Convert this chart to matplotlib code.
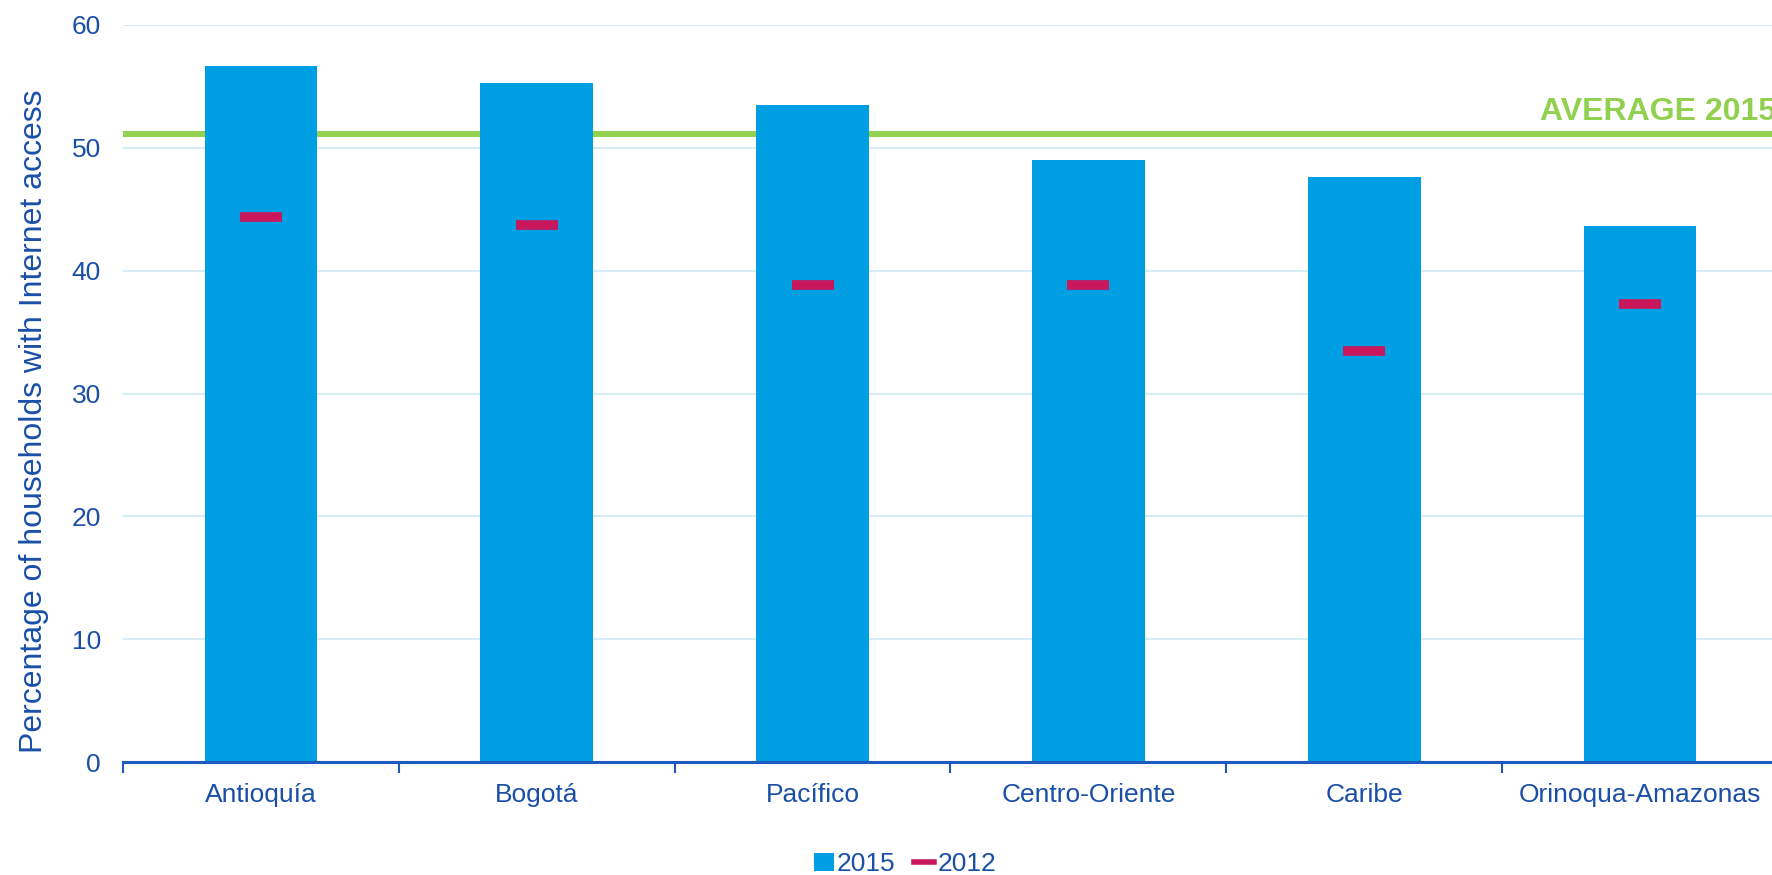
import matplotlib
matplotlib.use("Agg")
import matplotlib.pyplot as plt
import numpy as np
from matplotlib.lines import Line2D
from matplotlib.patches import Patch

plt.rcParams['font.family'] = ['Liberation Sans', 'DejaVu Sans']

regions = ["Antioquía", "Bogotá", "Pacífico", "Centro-Oriente", "Caribe", "Orinoqua-Amazonas"]
values_2015 = [56.7, 55.3, 53.5, 49.0, 47.6, 43.6]
values_2012 = [44.4, 43.75, 38.8, 38.85, 33.5, 37.3]
average_2015 = 51.1
yticks = [0, 10, 20, 30, 40, 50, 60]

BLUE = "#009FE3"
MAG = "#C8175D"
GREEN = "#92D050"
TXT = "#1A4FA8"
AXC = "#1F5BBF"
GRID = "#D8ECF8"

W, H = 1772, 875
fig = plt.figure(figsize=(W / 100, H / 100), dpi=100)
ax = fig.add_axes([123 / W, (H - 762) / H, (1778 - 123) / W, (762 - 25) / H])

x = np.arange(len(regions))
ax.bar(x, values_2015, width=0.408, color=BLUE, zorder=2)
ax.hlines(values_2012, x - 0.076, x + 0.076, colors=MAG, linewidth=7, zorder=3)
ax.axhline(average_2015, color=GREEN, linewidth=4.3, zorder=1)

ax.set_xlim(-0.5, len(regions) - 0.5)
ax.set_ylim(0, 60)
ax.set_yticks(yticks)
ax.set_yticklabels([str(t) for t in yticks])
ax.grid(axis='y', color=GRID, linewidth=1.5, zorder=0)
ax.set_axisbelow(True)

for s in ['top', 'right', 'left']:
    ax.spines[s].set_visible(False)
ax.spines['bottom'].set_color(AXC)
ax.spines['bottom'].set_linewidth(2.2)
ax.spines['bottom'].set_zorder(4)

ax.set_xticks(x)
ax.set_xticklabels(regions)
ax.set_xticks(np.arange(len(regions) + 1) - 0.5, minor=True)
ax.tick_params(axis='x', which='major', length=0, pad=15, labelsize=19, labelcolor=TXT)
ax.tick_params(axis='x', which='minor', length=8, width=1.5, color=AXC, direction='out')
ax.tick_params(axis='y', length=0, pad=16, labelsize=19, labelcolor=TXT)

fig.text(34 / W, 1 - 421 / H, "Percentage of households with Internet access",
         rotation=90, ha='center', va='center', fontsize=23, color=TXT)

ax.text(1540 / W, 1 - 120 / H, "AVERAGE 2015", transform=fig.transFigure,
        ha='left', va='baseline', fontsize=23, fontweight='bold', color=GREEN)

handles = [Patch(facecolor=BLUE, edgecolor='none', label="2015"),
           Line2D([0], [0], color=MAG, linewidth=4, label="2012")]
fig.legend(handles=handles, loc='center', bbox_to_anchor=(905 / W, 1 - 864 / H),
           ncol=2, frameon=False, fontsize=19, labelcolor=TXT,
           handlelength=0.75, handletextpad=0.12, columnspacing=0.7, handleheight=0.7)

fig.savefig("out.png", dpi=100)
